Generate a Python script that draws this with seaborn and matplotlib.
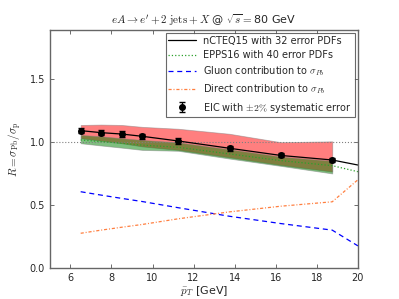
import matplotlib
matplotlib.use('Agg')
import matplotlib.pyplot as plt
import seaborn as sns
import numpy as np

# EIC pseudo-data points
pt_bins = [6.5, 7.5, 8.5, 9.5, 11.25, 13.75, 16.25, 18.75]
eic_ratio = [1.09, 1.074, 1.063, 1.045, 1.008, 0.95, 0.895, 0.857]

# curves evaluated at the bin centres plus the end point
pt_curve = [6.5, 7.5, 8.5, 9.5, 11.25, 13.75, 16.25, 18.75, 20.0]
ncteq_central = [1.09, 1.074, 1.063, 1.045, 1.008, 0.95, 0.893, 0.857, 0.817]
epps_central = [1.016, 1.003, 0.99, 0.975, 0.958, 0.905, 0.852, 0.812, 0.764]
gluon_frac = [0.605, 0.578, 0.552, 0.527, 0.478, 0.41, 0.352, 0.30, 0.175]
direct_frac = [0.275, 0.30, 0.323, 0.345, 0.39, 0.445, 0.49, 0.525, 0.70]

# error bands (only up to the last bin)
ncteq_upper = [1.135, 1.138, 1.135, 1.12, 1.105, 1.065, 0.998, 1.005]
ncteq_lower = [1.03, 1.01, 0.99, 0.965, 0.937, 0.878, 0.817, 0.765]
epps_upper = [1.056, 1.045, 1.03, 1.016, 0.997, 0.942, 0.884, 0.85]
epps_lower = [0.99, 0.972, 0.955, 0.937, 0.93, 0.868, 0.81, 0.75]

sns.set_style('ticks')
plt.rcParams['font.family'] = ['DejaVu Sans']
plt.rcParams['mathtext.fontset'] = 'cm'
plt.rcParams['xtick.direction'] = 'in'
plt.rcParams['ytick.direction'] = 'in'

fig = plt.figure(figsize=(3.99, 2.99), dpi=100)
ax = fig.add_axes([0.125, 0.104, 0.772, 0.796])

ax.axhline(1.0, color='gray', ls=':', lw=0.8)

ax.fill_between(pt_bins, ncteq_lower, ncteq_upper, color='red', alpha=0.5, lw=0.6, edgecolor='gray')
ax.fill_between(pt_bins, epps_lower, epps_upper, color='g', alpha=0.5, lw=0.6, edgecolor='gray')

sns.lineplot(x=pt_curve, y=ncteq_central, color='black', lw=0.9, ax=ax,
             label='nCTEQ15 with 32 error PDFs')
sns.lineplot(x=pt_curve, y=epps_central, color='tab:green', lw=0.9, ls=':', ax=ax,
             label='EPPS16 with 40 error PDFs')
sns.lineplot(x=pt_curve, y=gluon_frac, color='blue', lw=0.9, ax=ax,
             label=r'Gluon contribution to $\sigma_{Pb}$')
ax.lines[-1].set_dashes([4, 3])
sns.lineplot(x=pt_curve, y=direct_frac, color='#ff7f3f', lw=0.9, ax=ax,
             label=r'Direct contribution to $\sigma_{Pb}$')
ax.lines[-1].set_dashes([2.5, 1.5, 0.8, 1.5])
yerr = [0.02 * v for v in eic_ratio]
ax.errorbar(pt_bins, eic_ratio, yerr=yerr, fmt='o', color='black', ms=4,
            capsize=2, elinewidth=0.9, label=r'EIC with $\pm 2\%$ systematic error')

ax.set_xlim(5, 20)
ax.set_ylim(0, 1.89)
ax.set_xticks([6, 8, 10, 12, 14, 16, 18, 20])
ax.set_yticks([0.0, 0.5, 1.0, 1.5])
ax.tick_params(top=True, right=True, labelsize=7, length=3, width=0.6, color='#555555')
for s in ax.spines.values():
    s.set_color('#666666')
    s.set_linewidth(1.0)

ax.set_xlabel(r'$\bar{p}_T$ [GeV]', fontsize=8, labelpad=1)
ax.set_ylabel(r'$R = \sigma_{\rm Pb}/\sigma_{\rm p}$', fontsize=8)
ax.set_title(r'$eA \to e^{\prime} + 2\ \mathrm{jets} + X$ @ $\sqrt{s} = $80 GeV', fontsize=8, pad=4)

leg = ax.legend(loc='upper right', fontsize=7, frameon=True, fancybox=False,
                handlelength=2.8, borderpad=0.3, labelspacing=0.45, borderaxespad=0.3)
leg.get_frame().set_edgecolor('#444444')
leg.get_frame().set_linewidth(0.8)

fig.savefig('out.png', dpi=100)
